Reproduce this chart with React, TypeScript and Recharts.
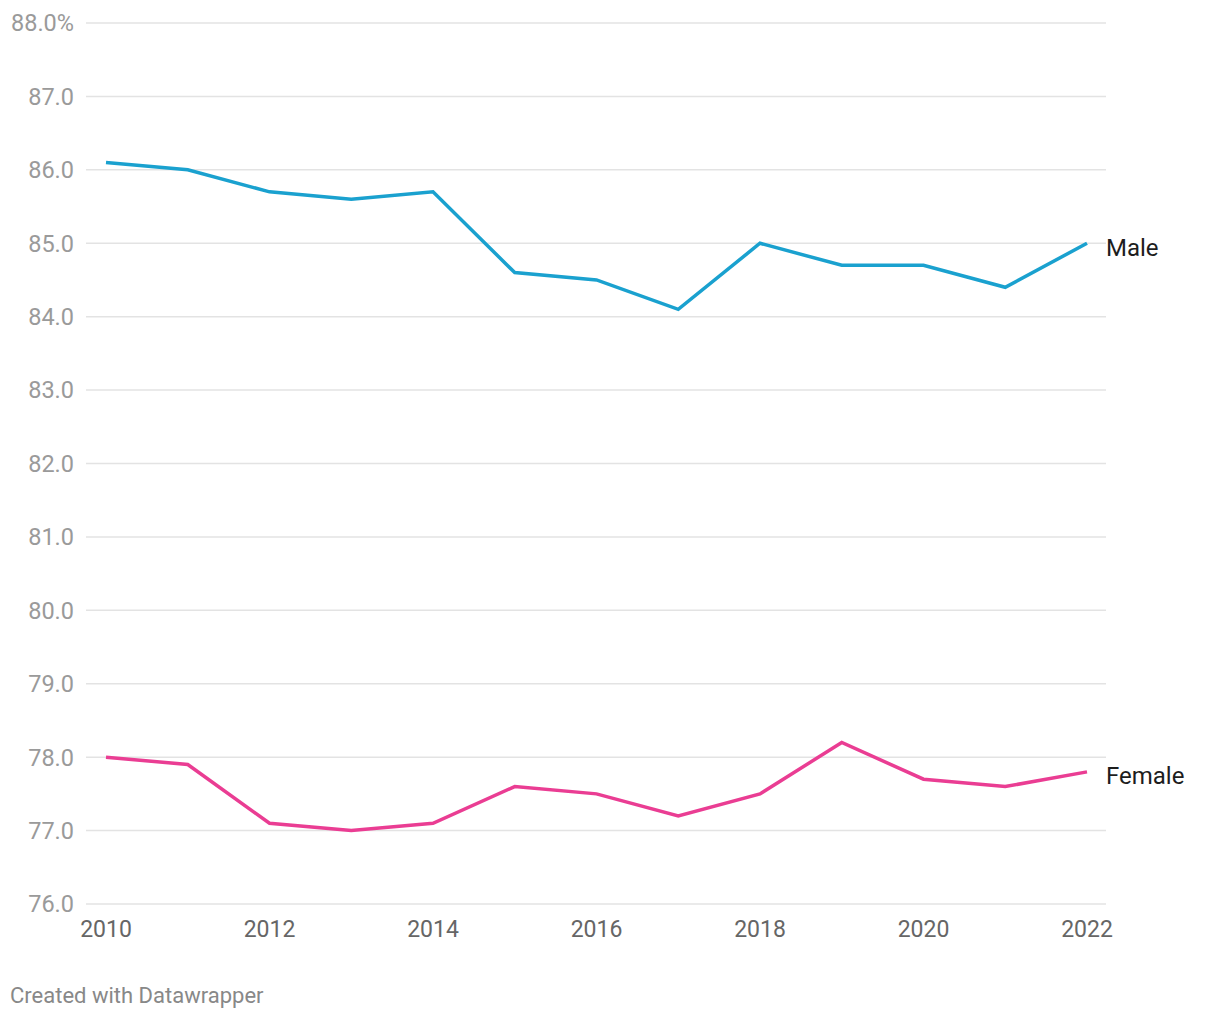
import React from "react";
import { LineChart, Line, XAxis, YAxis, CartesianGrid } from "recharts";

const years = [2010, 2011, 2012, 2013, 2014, 2015, 2016, 2017, 2018, 2019, 2020, 2021, 2022];
const male = [86.1, 86.0, 85.7, 85.6, 85.7, 84.6, 84.5, 84.1, 85.0, 84.7, 84.7, 84.4, 85.0];
const female = [78.0, 77.9, 77.1, 77.0, 77.1, 77.6, 77.5, 77.2, 77.5, 78.2, 77.7, 77.6, 77.8];
const yTicks = [76, 77, 78, 79, 80, 81, 82, 83, 84, 85, 86, 87, 88];
const xTicks = [2010, 2012, 2014, 2016, 2018, 2020, 2022];

const data = years.map((year, i) => ({ year, Male: male[i], Female: female[i] }));

const font = "Roboto, 'Noto Sans', sans-serif";

const endLabel = (name: string) => (props: any) => {
  const { x, y, index } = props;
  if (index !== years.length - 1) return null;
  return (
    <text x={x + 19} y={y + 4} dy="0.35em" fill="#1d1d1d" fontSize={24} fontFamily={font}>
      {name}
    </text>
  );
};

export default function App() {
  return (
    <div style={{ position: "absolute", left: 0, top: 0, width: 1220, height: 1020, background: "#fff" }}>
      <LineChart width={1220} height={1020} data={data} margin={{ top: 23, right: 114, bottom: 76, left: 0 }}>
        <CartesianGrid vertical={false} stroke="#e3e3e3" strokeWidth={1.5} />
        <XAxis
          dataKey="year"
          type="number"
          domain={[2010, 2022]}
          ticks={xTicks}
          padding={{ left: 20, right: 19 }}
          axisLine={false}
          tickLine={false}
          tickSize={0}
          tickMargin={17}
          height={40}
          tick={{ fill: "#666", fontSize: 23, fontFamily: font }}
        />
        <YAxis
          type="number"
          domain={[76, 88]}
          ticks={yTicks}
          width={86}
          axisLine={false}
          tickLine={false}
          tickSize={0}
          tickMargin={12}
          tickFormatter={(v: number) => (v === 88 ? "88.0%" : v.toFixed(1))}
          tick={{ fill: "#9a9a9a", fontSize: 23.5, fontFamily: font }}
        />
        <Line
          dataKey="Male"
          stroke="#1aa1cf"
          strokeWidth={3.5}
          dot={false}
          isAnimationActive={false}
          label={endLabel("Male")}
        />
        <Line
          dataKey="Female"
          stroke="#ea3d93"
          strokeWidth={3.5}
          dot={false}
          isAnimationActive={false}
          label={endLabel("Female")}
        />
      </LineChart>
      <div
        style={{
          position: "absolute",
          left: 10,
          top: 983,
          fontFamily: font,
          fontSize: 22,
          color: "#888",
          whiteSpace: "nowrap",
        }}
      >
        Created with Datawrapper
      </div>
    </div>
  );
}
